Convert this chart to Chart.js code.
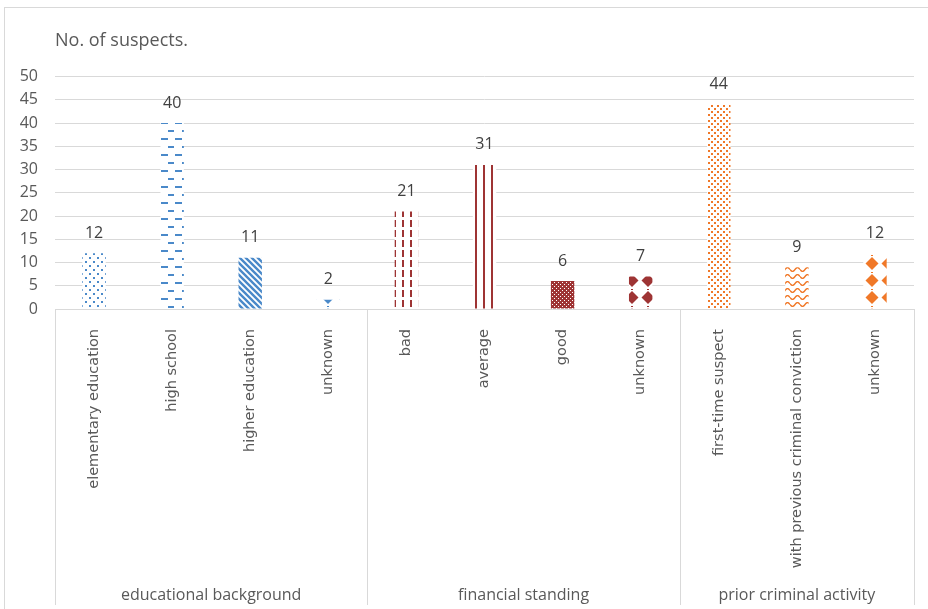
<!DOCTYPE html>
<html>
<head>
<meta charset="utf-8">
<script src="https://cdn.jsdelivr.net/npm/chart.js@4/dist/chart.umd.min.js"></script>
<style>
  html, body { margin: 0; padding: 0; background: #fff; }
  #wrap { position: relative; width: 928px; height: 609px; }
  #frame { position: absolute; left: 4px; top: 7px; right: 0; bottom: 0;
           border-left: 1px solid #d9d9d9; border-top: 1px solid #d9d9d9; }
  canvas { position: absolute; left: 0; top: 0; }
</style>
</head>
<body>
<div id="wrap">
  <div id="frame"></div>
  <canvas id="chart" width="928" height="609"></canvas>
</div>
<script>
// data
var categories = [
  'elementary education', 'high school', 'higher education', 'unknown',
  'bad', 'average', 'good', 'unknown',
  'first-time suspect', 'with previous criminal conviction', 'unknown'
];
var suspects = [12, 40, 11, 2, 21, 31, 6, 7, 44, 9, 12];
var groupNames = ['educational background', 'financial standing', 'prior criminal activity'];
var groupSizes = [4, 4, 3];
var yTicks = [0, 5, 10, 15, 20, 25, 30, 35, 40, 45, 50];

// colours of the three groups
var blue = '#4a89c9';
var red = '#9e3434';
var orange = '#f07828';

// small tile -> canvas pattern
function makePattern(color, w, h, draw) {
  var c = document.createElement('canvas');
  c.width = w;
  c.height = h;
  var g = c.getContext('2d');
  g.fillStyle = '#fff';
  g.fillRect(0, 0, w, h);
  g.fillStyle = color;
  g.strokeStyle = color;
  draw(g, w, h);
  return g.createPattern(c, 'repeat');
}

function diamond(g, cx, cy, rx, ry) {
  g.beginPath();
  g.moveTo(cx, cy - ry);
  g.lineTo(cx + rx, cy);
  g.lineTo(cx, cy + ry);
  g.lineTo(cx - rx, cy);
  g.closePath();
  g.fill();
}

var dots = function (color) {
  return makePattern(color, 8, 8, function (g) {
    g.fillRect(1, 1, 2, 2);
    g.fillRect(5, 5, 2, 2);
  });
};
var hDashes = function (color) {
  return makePattern(color, 14, 16, function (g) {
    g.fillRect(0, 2, 6, 2);
    g.fillRect(7, 10, 7, 2);
  });
};
var diagStripes = function (color) {
  return makePattern(color, 6, 6, function (g) {
    g.lineWidth = 2.4;
    g.beginPath();
    g.moveTo(-1, -1); g.lineTo(7, 7);
    g.moveTo(-4, 2); g.lineTo(2, 8);
    g.moveTo(2, -4); g.lineTo(8, 2);
    g.stroke();
  });
};
var vDashes = function (color) {
  return makePattern(color, 8, 20, function (g) {
    g.fillRect(2, 0, 2, 7);
    g.fillRect(2, 10, 2, 7);
  });
};
var vLines = function (color) {
  return makePattern(color, 8, 4, function (g) {
    g.fillRect(3, 0, 2, 4);
  });
};
var trellis = function (color) {
  return makePattern(color, 4, 4, function (g) {
    g.fillRect(0, 0, 4, 4);
    g.fillStyle = '#fff';
    g.fillRect(0, 0, 1, 1);
    g.fillRect(2, 2, 1, 1);
  });
};
var diamonds = function (color) {
  return makePattern(color, 16, 17, function (g) {
    diamond(g, 8, 8.5, 6.5, 6.5);
    g.fillRect(7, 0, 2, 1);
  });
};
var fineDots = function (color) {
  return makePattern(color, 6, 6, function (g) {
    g.fillRect(0, 0, 2, 2);
    g.fillRect(3, 3, 2, 2);
  });
};
var waves = function (color) {
  return makePattern(color, 10, 7, function (g) {
    g.lineWidth = 1.4;
    g.beginPath();
    for (var x = 0; x <= 10; x++) {
      var y = 3.5 + 2 * Math.sin(x / 10 * Math.PI * 2);
      if (x === 0) g.moveTo(x, y); else g.lineTo(x, y);
    }
    g.stroke();
  });
};

var barFills = [
  dots(blue), hDashes(blue), diagStripes(blue), diamonds(blue),
  vDashes(red), vLines(red), trellis(red), diamonds(red),
  fineDots(orange), waves(orange), diamonds(orange)
];

// numbers above the bars
var valueLabels = {
  id: 'valueLabels',
  afterDatasetsDraw: function (chart) {
    var ctx = chart.ctx;
    var meta = chart.getDatasetMeta(0);
    ctx.save();
    ctx.font = '16px "Open Sans"';
    ctx.fillStyle = '#404040';
    ctx.textAlign = 'center';
    ctx.textBaseline = 'middle';
    meta.data.forEach(function (bar, i) {
      ctx.fillText(String(suspects[i]), bar.x, bar.y - 20);
    });
    ctx.restore();
  }
};

// group separators and group names under the category labels
var groupAxis = {
  id: 'groupAxis',
  afterDraw: function (chart) {
    var ctx = chart.ctx;
    var xs = chart.scales.x;
    var step = xs.width / categories.length;
    var top = chart.chartArea.bottom;
    var bottom = xs.bottom;
    ctx.save();
    ctx.strokeStyle = '#d9d9d9';
    ctx.lineWidth = 1;
    var start = 0;
    var edges = [0];
    groupSizes.forEach(function (n) { start += n; edges.push(start); });
    edges.forEach(function (e) {
      var x = Math.round(xs.getPixelForValue(e) - step / 2) + 0.5;
      ctx.beginPath();
      ctx.moveTo(x, top);
      ctx.lineTo(x, bottom);
      ctx.stroke();
    });
    ctx.font = '16px "Open Sans"';
    ctx.fillStyle = '#595959';
    ctx.textAlign = 'center';
    ctx.textBaseline = 'middle';
    groupNames.forEach(function (name, i) {
      var a = xs.getPixelForValue(edges[i]) - step / 2;
      var b = xs.getPixelForValue(edges[i + 1]) - step / 2;
      ctx.fillText(name, (a + b) / 2, bottom - 10);
    });
    ctx.restore();
  }
};

new Chart(document.getElementById('chart'), {
  type: 'bar',
  data: {
    labels: categories,
    datasets: [{
      data: suspects,
      backgroundColor: barFills,
      borderWidth: 0,
      categoryPercentage: 1,
      barPercentage: 0.3
    }]
  },
  options: {
    responsive: false,
    animation: false,
    layout: { padding: { top: 0, left: 0, right: 14, bottom: 4 } },
    plugins: {
      legend: { display: false },
      tooltip: { enabled: false },
      title: {
        display: true,
        text: 'No. of suspects.',
        align: 'start',
        fullSize: false,
        color: '#595959',
        font: { family: 'Open Sans', size: 18, weight: 'normal' },
        padding: { top: 30, bottom: 25 }
      }
    },
    scales: {
      x: {
        grid: { display: false },
        border: { color: '#d9d9d9' },
        ticks: {
          autoSkip: false,
          minRotation: 90,
          maxRotation: 90,
          padding: 12,
          color: '#595959',
          font: { family: 'DejaVu Sans', size: 14.5 }
        },
        afterFit: function (scale) { scale.height = 296; }
      },
      y: {
        min: 0,
        max: 50,
        afterBuildTicks: function (scale) {
          scale.ticks = yTicks.map(function (v) { return { value: v }; });
        },
        border: { display: false },
        grid: { color: '#d9d9d9', drawTicks: false },
        ticks: {
          padding: 17,
          color: '#595959',
          font: { family: 'Open Sans', size: 16 }
        },
        afterFit: function (scale) { scale.width = 55; }
      }
    }
  },
  plugins: [valueLabels, groupAxis]
});
</script>
</body>
</html>
